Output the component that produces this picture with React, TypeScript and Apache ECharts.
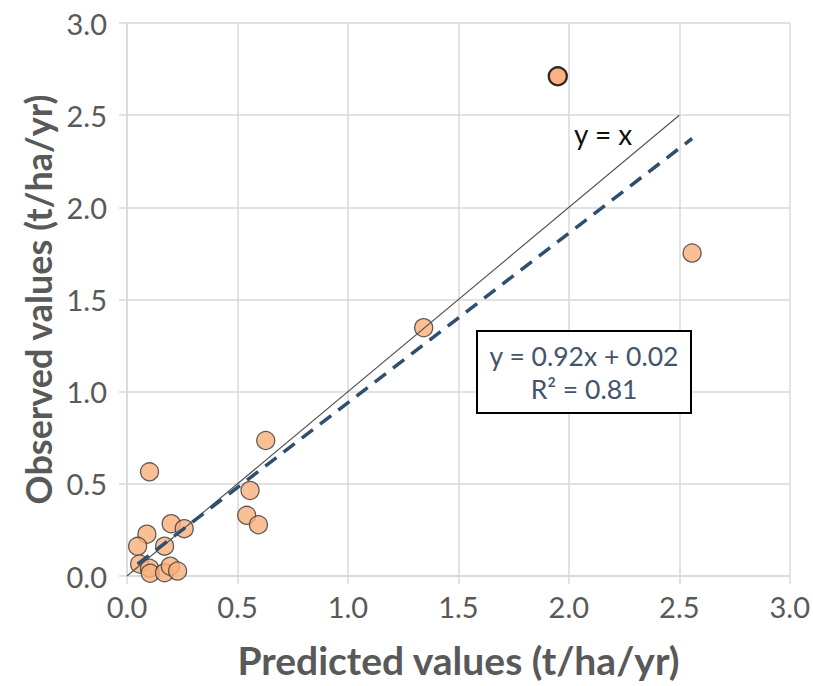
import React, { useEffect, useRef } from "react";
import * as echarts from "echarts";

const predicted = [0.102, 0.628, 0.557, 0.542, 0.595, 0.2, 0.259, 0.09, 0.048, 0.17, 0.057, 0.102, 0.105, 0.17, 0.196, 0.229, 1.343, 1.95, 2.558];
const observed = [0.565, 0.735, 0.464, 0.329, 0.278, 0.284, 0.257, 0.227, 0.161, 0.162, 0.065, 0.042, 0.015, 0.018, 0.053, 0.027, 1.347, 2.711, 1.752];
const trendSlope = 0.92;
const trendIntercept = 0.02;
const identityLine = [[0, 0], [2.5, 2.5]];
const xTicks = ["0.0", "0.5", "1.0", "1.5", "2.0", "2.5", "3.0"];
const yTicks = ["0.0", "0.5", "1.0", "1.5", "2.0", "2.5", "3.0"];

export default function App() {
  const ref = useRef<HTMLDivElement>(null);
  useEffect(() => {
    const chart = echarts.init(ref.current!, null, { renderer: "svg" });
    const pts = predicted.map((x, i) => [x, observed[i]]);
    const xmin = Math.min(...predicted);
    const xmax = Math.max(...predicted);
    const trend = [
      [xmin, trendSlope * xmin + trendIntercept],
      [xmax, trendSlope * xmax + trendIntercept],
    ];
    const font = "Lato, 'Open Sans', sans-serif";
    chart.setOption({
      animation: false,
      backgroundColor: "#ffffff",
      grid: { left: 127, right: 23, top: 23, bottom: 110 },
      xAxis: {
        type: "value",
        min: 0,
        max: 3,
        interval: 0.5,
        name: "Predicted values (t/ha/yr)",
        nameLocation: "middle",
        nameGap: 64,
        nameTextStyle: { fontFamily: font, fontSize: 39, fontWeight: "bold", color: "#595959" },
        axisLine: { show: true, lineStyle: { color: "#D9D9D9", width: 1.5 } },
        axisTick: { show: true, length: 8, lineStyle: { color: "#D9D9D9", width: 1.5 } },
        axisLabel: {
          margin: 16,
          fontFamily: font,
          fontSize: 29,
          color: "#595959",
          formatter: (v: number) => xTicks[Math.round(v / 0.5)] ?? "",
        },
        splitLine: { show: true, lineStyle: { color: "#D9D9D9", width: 1.5 } },
      },
      yAxis: {
        type: "value",
        min: 0,
        max: 3,
        interval: 0.5,
        name: "Observed values (t/ha/yr)",
        nameLocation: "middle",
        nameGap: 63,
        nameTextStyle: { fontFamily: font, fontSize: 36, fontWeight: "bold", color: "#595959" },
        axisLine: { show: true, lineStyle: { color: "#D9D9D9", width: 1.5 } },
        axisTick: { show: true, length: 8, lineStyle: { color: "#D9D9D9", width: 1.5 } },
        axisLabel: {
          margin: 20,
          fontFamily: font,
          fontSize: 29,
          color: "#595959",
          formatter: (v: number) => yTicks[Math.round(v / 0.5)] ?? "",
        },
        splitLine: { show: true, lineStyle: { color: "#D9D9D9", width: 1.5 } },
      },
      series: [
        {
          type: "scatter",
          data: pts,
          symbol: "circle",
          symbolSize: 18,
          z: 2,
          itemStyle: {
            color: "#FAAF7C",
            borderColor: "#3a3a3a",
            borderWidth: 1.3,
          },
        },
        {
          type: "scatter",
          data: [pts[17]],
          symbol: "circle",
          symbolSize: 18,
          z: 2,
          itemStyle: { color: "#FAAF7C", borderColor: "#111", borderWidth: 2.4 },
        },
        {
          type: "line",
          data: identityLine,
          symbol: "none",
          z: 3,
          lineStyle: { color: "#555555", width: 1.2 },
        },
        {
          type: "line",
          data: trend,
          symbol: "none",
          z: 4,
          lineStyle: { color: "#2F4F6F", width: 3.5, type: [14, 9] },
        },
      ],
      graphic: [
        {
          type: "text",
          left: 574,
          top: 120,
          style: { text: "y = x", fontFamily: font, fontSize: 28, fill: "#111" },
          z: 10,
        },
        {
          type: "rect",
          shape: { x: 477, y: 331, width: 214, height: 82 },
          style: { fill: "#ffffff", stroke: "#000000", lineWidth: 2 },
          z: 9,
        },
        {
          type: "text",
          x: 584,
          y: 356,
          style: {
            text: "y = 0.92x + 0.02",
            fontFamily: font,
            fontSize: 26.5,
            fill: "#44546A",
            align: "center",
            verticalAlign: "middle",
          },
          z: 10,
        },
        {
          type: "text",
          x: 584,
          y: 389,
          style: {
            text: "R² = 0.81",
            fontFamily: font,
            fontSize: 26.5,
            fill: "#44546A",
            align: "center",
            verticalAlign: "middle",
          },
          z: 10,
        },
      ],
    });
    return () => chart.dispose();
  }, []);
  return (
    <div
      ref={ref}
      style={{ width: 813, height: 686, position: "absolute", left: 0, top: 0 }}
    />
  );
}
